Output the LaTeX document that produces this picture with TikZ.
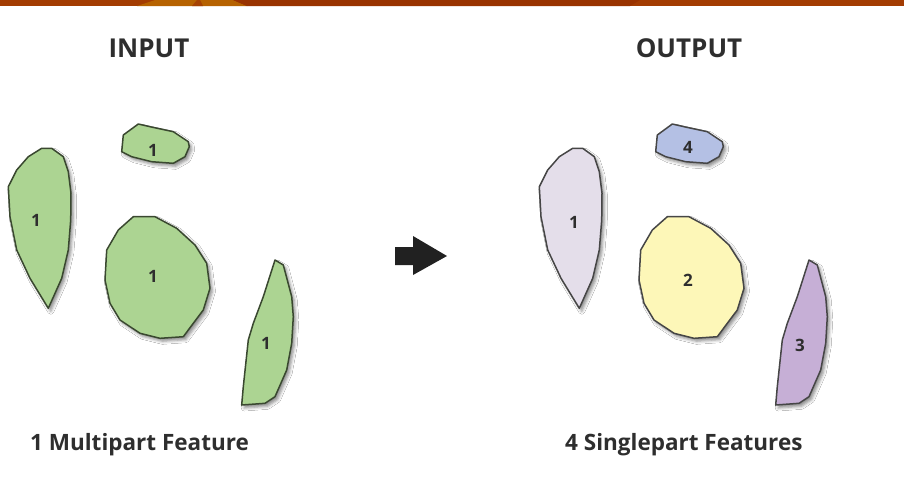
\documentclass[tikz,border=0pt]{standalone}
\usepackage{fontspec}
\setmainfont{Open Sans}
\usetikzlibrary{shadows.blur}
\definecolor{barc}{HTML}{A33C02}
\definecolor{barlight}{HTML}{B66200}
\definecolor{bardark}{HTML}{993300}
\definecolor{greenf}{HTML}{ACD492}
\definecolor{greenl}{HTML}{3A4830}
\definecolor{lavf}{HTML}{E4DEEA}
\definecolor{bluef}{HTML}{B4C0E4}
\definecolor{yelf}{HTML}{FDF7B8}
\definecolor{purf}{HTML}{C6AFD6}
\definecolor{outl}{HTML}{464646}
\definecolor{txt}{HTML}{2E2E2E}
\newcommand\leafshape{(41.7,148.3) -- (51.7,148.3) -- (63.3,156.7) -- (68.3,171.7) -- (71,193.3) -- (70.7,220) -- (68.3,250) -- (61.7,278.3) -- (48.3,308.3) -- (30,278.3) -- (16.7,250) -- (10,216.7) -- (8.3,186.7) -- (16.7,170) -- (28.3,156.7) -- cycle}
\newcommand\smallshape{(138.3,124) -- (150,126.7) -- (173.3,131.7) -- (188.3,141.7) -- (189.3,146.7) -- (185,156.7) -- (173.3,163.3) -- (151.7,161.7) -- (131.7,156.7) -- (121.7,151.7) -- (123.3,135) -- cycle}
\newcommand\bigshape{(133.3,216.7) -- (155,216.7) -- (176.7,228.3) -- (195,245) -- (206.7,263.3) -- (210,288.3) -- (203.3,310) -- (193.3,323.3) -- (183.3,336.7) -- (160,338.3) -- (140,333.3) -- (120,320) -- (110,303.3) -- (105,280) -- (106.7,250) -- (118.3,230) -- cycle}
\newcommand\slivershape{(275,260) -- (283.3,265) -- (291.7,296.7) -- (293.3,316.7) -- (291.7,343.3) -- (286.7,370) -- (275,396.7) -- (265,403.3) -- (241.7,405) -- (243.3,386.7) -- (248.3,340) -- (253.3,323.3) -- (263.3,296.7) -- cycle}
\tikzset{
  poly/.style={draw=#1, line width=1.5pt, line join=round,
    blur shadow={shadow xshift=2.5pt, shadow yshift=-3pt, shadow blur radius=3pt, shadow opacity=45}},
  num/.style={font=\bfseries\fontsize{17}{17}\selectfont, text=txt, inner sep=0pt},
  title/.style={font=\bfseries\fontsize{26}{26}\selectfont, text=txt, inner sep=0pt},
  caption/.style={font=\bfseries\fontsize{22.5}{23}\selectfont, text=txt, inner sep=0pt, anchor=base west}
}
\begin{document}
\begin{tikzpicture}[x=1pt,y=-1pt]
\useasboundingbox (0,0) rectangle (904,480);
\fill[white] (0,0) rectangle (904,480);
% top bar
\fill[barc] (0,0) rectangle (904,6);
\fill[barlight] (137,6) -- (155,0) -- (233,0) -- (247,6) -- cycle;
\fill[barc!85!barlight] (192,6) -- (197,0) -- (200,0) -- (203,6) -- cycle;
\fill[bardark] (247,6) -- (233,0) -- (640,0) -- (630,6) -- cycle;
% titles
\node[title] (tin) at (149,48) {INPUT};
\node[title] (tout) at (689,48) {OUTPUT};
% input shapes
\path[poly=greenl, fill=greenf] \leafshape;
\path[poly=greenl, fill=greenf] \smallshape;
\path[poly=greenl, fill=greenf] \bigshape;
\path[poly=greenl, fill=greenf] \slivershape;
\node[num] (i1) at (36,220) {1};
\node[num] (i2) at (153,150) {1};
\node[num] (i3) at (153,276) {1};
\node[num] (i4) at (266,343) {1};
% arrow
\fill[black!87] (395,247) -- (413,247) -- (413,236) -- (447,256) -- (413,275) -- (413,265) -- (395,265) -- cycle;
% output shapes
\begin{scope}[xshift=531pt]
\path[poly=outl, fill=lavf] \leafshape;
\end{scope}
\begin{scope}[xshift=534pt]
\path[poly=outl, fill=bluef] \smallshape;
\path[poly=outl, fill=yelf] \bigshape;
\path[poly=outl, fill=purf] \slivershape;
\end{scope}
\node[num] (o1) at (574,222) {1};
\node[num] (o4) at (688,147) {4};
\node[num] (o2) at (688,280) {2};
\node[num] (o3) at (800,345) {3};
% captions
\node[caption] (cin) at (30,450) {1 Multipart Feature};
\node[caption] (cout) at (565,450) {4 Singlepart Features};
\end{tikzpicture}
\end{document}
